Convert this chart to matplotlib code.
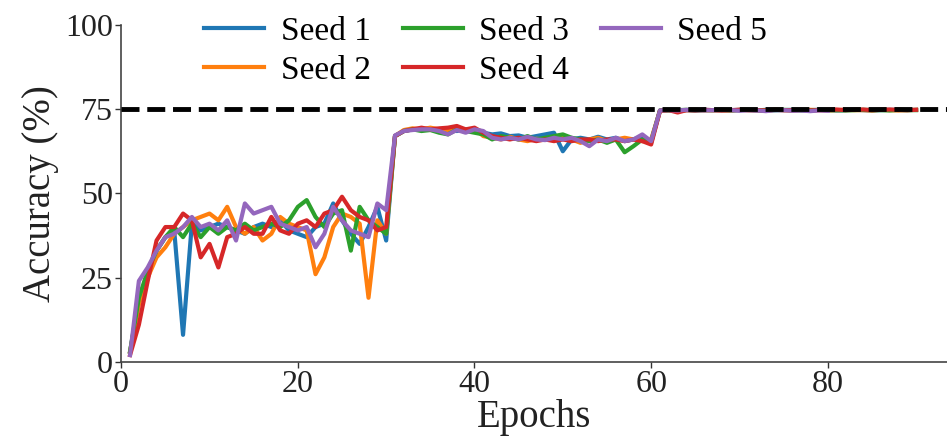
import numpy as np
import matplotlib.pyplot as plt

plt.rcParams['font.family'] = ['Liberation Serif', 'DejaVu Serif']

epochs = np.arange(1, 91)

seed1 = [3, 18, 26, 33, 37, 39, 8, 41, 39, 40, 41, 40, 39, 38, 40, 41, 40, 42, 39, 38,
         37, 40, 41, 47, 42, 38, 35, 40, 46, 36,
         67, 68.5, 69, 69, 69.2, 68.8, 69, 68.5, 69, 68.8, 68, 67.5, 67.8, 67, 67.2, 66.5, 67, 67.5, 68, 62.5,
         66, 66.5, 66, 66.8, 66, 66.5, 65.5, 66, 67, 65,
         74.6, 74.7, 74.5, 74.7, 74.6, 74.8, 74.7, 74.6, 74.7, 74.8, 74.7, 74.6, 74.8, 74.7, 74.7,
         74.8, 74.6, 74.7, 74.8, 74.7, 74.6, 74.7, 74.8, 74.7, 74.6, 74.7, 74.8, 74.7, 74.7, 74.8]
seed2 = [3, 17, 25, 31, 34, 38, 40, 42, 43, 44, 42, 46, 40, 38, 40, 36, 38, 43, 41, 40,
         39, 26, 31, 40, 44, 43, 41, 19, 42, 38,
         67, 68.8, 69.3, 69, 69.5, 69, 68.5, 69, 68.7, 69.2, 67, 66.5, 66, 66.8, 66, 65.5, 66.2, 66, 65.8, 66.5,
         66, 65, 66, 66.5, 65.5, 66, 66.5, 66, 65.5, 66,
         74.5, 74.7, 74.6, 74.7, 74.8, 74.6, 74.7, 74.7, 74.6, 74.8, 74.7, 74.7, 74.6, 74.8, 74.7,
         74.6, 74.7, 74.8, 74.7, 74.6, 74.7, 74.8, 74.7, 74.7, 74.6, 74.8, 74.7, 74.6, 74.7, 74.8]
seed3 = [3, 19, 27, 33, 37, 40, 37, 41, 37, 40, 38, 40, 39, 41, 39, 40, 41, 40, 42, 46,
         48, 43, 40, 44, 45, 33, 46, 42, 40, 38,
         67, 68.5, 69, 68.5, 68.8, 68, 67.5, 69, 68.5, 68, 67.5, 66, 67, 66.5, 66, 67, 66, 66.5, 67, 67.5,
         66.5, 66, 65.5, 66, 65, 66, 62.2, 64, 66, 65.5,
         74.6, 74.6, 74.7, 74.8, 74.6, 74.7, 74.7, 74.8, 74.6, 74.7, 74.8, 74.7, 74.6, 74.7, 74.8,
         74.7, 74.7, 74.6, 74.8, 74.7, 74.7, 74.6, 74.7, 74.8, 74.7, 74.7, 74.6, 74.8, 74.7, 74.7]
seed4 = [2, 11, 24, 36, 40, 40, 44, 42, 31, 35, 28, 37, 38, 40, 38, 38, 43, 39, 38, 41,
         42, 40, 44, 45, 49, 45, 43, 42, 39, 40,
         67, 68.5, 69, 69.5, 69, 69.3, 69.5, 70, 69, 69.5, 68, 67, 66.5, 66, 66.5, 66, 65.5, 66, 65.5, 66,
         65.5, 66, 66, 65.5, 66, 66, 65.5, 66, 65.5, 64.5,
         74.5, 74.7, 74.0, 74.7, 74.6, 74.8, 74.7, 74.6, 74.7, 74.8, 74.7, 74.7, 74.6, 74.8, 74.7,
         74.7, 74.8, 74.6, 74.7, 74.8, 74.9, 74.7, 74.8, 74.9, 74.7, 74.8, 74.9, 74.8, 74.7, 74.8]
seed5 = [2, 24, 28, 33, 37, 38, 40, 43, 40, 41, 39, 42, 36, 47, 44, 45, 46, 41, 40, 39,
         40, 34, 38, 46, 42, 39, 38, 37, 47, 45,
         67.2, 68.5, 68.8, 69, 69, 68.5, 67.5, 68.8, 68, 69, 68.5, 66.5, 66, 66.5, 66, 66.8, 66, 65.8, 66.5, 66,
         66.5, 65.5, 64, 66, 65.5, 66.5, 65.5, 66, 67.5, 65.5,
         74.6, 74.7, 74.6, 74.8, 74.7, 74.6, 74.7, 74.8, 74.7, 74.5, 74.7, 74.6, 74.4, 74.7, 74.7,
         74.5, 74.6, 74.4, 74.6, 74.5]

series = [seed1, seed2, seed3, seed4, seed5]
labels = ['Seed 1', 'Seed 2', 'Seed 3', 'Seed 4', 'Seed 5']
colors = ['#1f77b4', '#ff7f0e', '#2ca02c', '#d62728', '#9467bd']
target = 75

fig = plt.figure(figsize=(9.47, 4.45), dpi=100)
ax = fig.add_axes([0.128, 0.187, 0.872, 0.757])

for vals, lab, c in zip(series, labels, colors):
    ax.plot(epochs[:len(vals)], vals, color=c, lw=3, label=lab)

ax.axhline(target, color='black', ls='--', lw=3.5, zorder=5)

ax.set_xlim(0, 93.5)
ax.set_ylim(0, 100)
ax.set_xticks([0, 20, 40, 60, 80])
ax.set_yticks([0, 25, 50, 75, 100])
ax.tick_params(labelsize=23, length=4, width=1, pad=2, colors='#333333', labelcolor='#222222')
for s in ['top', 'right']:
    ax.spines[s].set_visible(False)
for s in ['left', 'bottom']:
    ax.spines[s].set_linewidth(1.2)
    ax.spines[s].set_color('#444444')

ax.set_xlabel('Epochs', fontsize=28, labelpad=0, color='#222222')
ax.set_ylabel('Accuracy (%)', fontsize=28, labelpad=4, color='#222222')

h, l = ax.get_legend_handles_labels()
fig.legend(h, l, loc='upper center', bbox_to_anchor=(0.513, 1.03), ncol=3, frameon=False,
           fontsize=24, handlelength=1.8, handletextpad=0.5, columnspacing=0.95,
           labelspacing=0.25)

fig.savefig('out.png', dpi=100)
